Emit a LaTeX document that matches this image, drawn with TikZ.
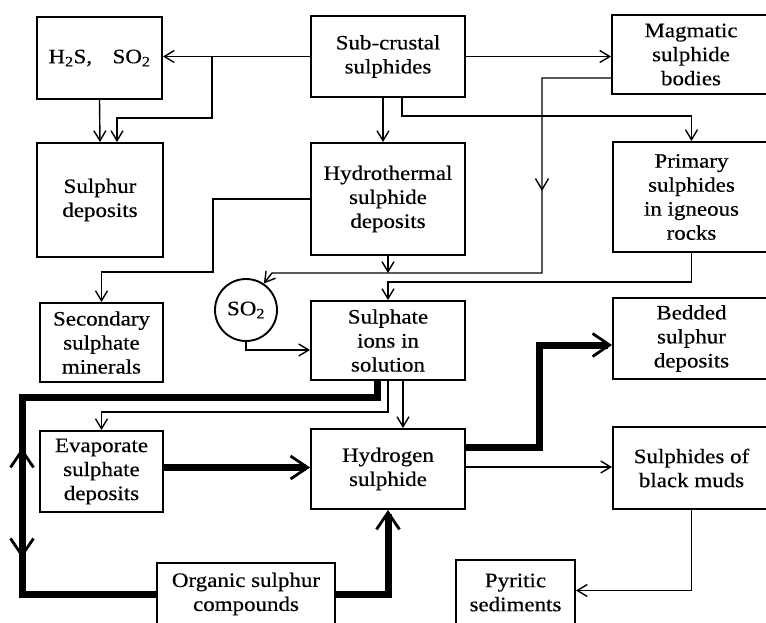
\documentclass[tikz,border=0pt]{standalone}
\usepackage{fontspec}
\setmainfont{Liberation Serif}[FakeStretch=1.12,FakeBold=0.4]
\usetikzlibrary{arrows.meta,calc,decorations.markings}

\tikzset{
  box/.style={draw,line width=1.9pt,inner sep=0pt,align=center,font=\fontsize{20.5}{24}\selectfont},
  arr/.style={line width=1.4pt,-{Straight Barb[length=10pt,width=12pt]}},
  heavy/.style={line width=7pt},
  heavyarr/.style={heavy,-{Straight Barb[length=17pt,width=23pt,line width=2.8pt]}},
}

\begin{document}
\begin{tikzpicture}[x=1pt,y=1pt,yscale=-1,xscale=1]
\useasboundingbox (0,0) rectangle (766,622);
\clip (0,0) rectangle (766,622);

% Boxes, top row
\node[box,minimum width=125,minimum height=82] (h2s) at (99.5,58) {H\textsubscript{2}S,\quad SO\textsubscript{2}};
\node[box,minimum width=154,minimum height=81] (subc) at (388,56.5) {Sub-crustal\\sulphides};
\node[box,minimum width=158,minimum height=79] (magm) at (691,54.5) {Magmatic\\sulphide\\bodies};
% Boxes, second row
\node[box,minimum width=126,minimum height=114] (sulph) at (100,200) {Sulphur\\deposits};
\node[box,minimum width=154,minimum height=112] (hydro) at (388,199) {Hydrothermal\\sulphide\\deposits};
\node[box,minimum width=157,minimum height=110] (prim) at (691.5,197) {Primary\\sulphides\\in igneous\\rocks};
% Boxes, third row
\node[box,minimum width=123,minimum height=79] (sec) at (101.5,342.5) {Secondary\\sulphate\\minerals};
\node[box,circle,minimum size=62] (so2c) at (246,310) {SO\textsubscript{2}};
\node[box,minimum width=154,minimum height=79] (sulion) at (388,340.5) {Sulphate\\ions in\\solution};
\node[box,minimum width=157,minimum height=81] (bedded) at (691.5,338.5) {Bedded\\sulphur\\deposits};
% Boxes, fourth row
\node[box,minimum width=123,minimum height=81] (evap) at (101.5,471.5) {Evaporate\\sulphate\\deposits};
\node[box,minimum width=154,minimum height=80] (hydrog) at (388,469) {Hydrogen\\sulphide};
\node[box,minimum width=157,minimum height=82] (black) at (691.5,468) {Sulphides of\\black muds};
% Boxes, bottom row
\node[box,minimum width=178,minimum height=62] (organic) at (246,594) {Organic sulphur\\compounds};
\node[box,minimum width=119,minimum height=65] (pyritic) at (515.5,592.5) {Pyritic\\sediments};

% Bend points
\coordinate (b1) at (212,56.5);
\coordinate (m1) at (542,273);
\coordinate (m2) at (272,273);
\coordinate (p1) at (691.5,282);
\coordinate (h1) at (213,272);

% Thin connectors
\draw[arr] (subc.west) -- (subc.west -| h2s.east);
\draw[arr] (h2s.south) -- (sulph.north);
\draw[arr] (b1) |- ($(sulph.north)+(17,-24)$) -- ($(sulph.north)+(17,0)$);
\draw[arr] (subc.east) -- (subc.east -| magm.west);
\draw[arr] ($(subc.south)+(-5,0)$) -- ($(hydro.north)+(-5,0)$);
\draw[arr] ($(subc.south)+(14,0)$) |- ($(prim.north)+(0,-25)$) -- (prim.north);
\draw[arr,postaction={decorate,decoration={markings,mark=at position 182pt with {\arrow{Straight Barb[length=11pt,width=13pt]}}}}] ($(magm.west)+(0,23.5)$) -| (m1) -- (m2) -- (so2c.56);
\draw[arr] (hydro.south) -- (hydro.south |- m1);
\draw[arr] (prim.south) -- (p1) -| (sulion.north);
\draw[arr] (hydro.west) -| (h1) -| (sec.north);
\draw[arr] (so2c.south) |- ($(sulion.west)+(0,9.5)$);
\draw[arr] (sulion.south) |- ($(evap.north)+(0,-18)$) -- (evap.north);
\draw[arr] ($(sulion.south)+(15,0)$) -- ($(hydrog.north)+(15,0)$);
\draw[arr] ($(hydrog.east)+(0,-2)$) -- ($(black.west)+(0,-1)$);
\draw[arr] (black.south) |- ($(pyritic.east)+(0,-2)$);

% Heavy connectors
\draw[heavy,postaction={decorate,decoration={markings,
    mark=at position 422pt with {\arrowreversed[line width=2.8pt]{Straight Barb[length=17pt,width=23pt]}},
    mark=at position 532pt with {\arrow[line width=2.8pt]{Straight Barb[length=17pt,width=23pt]}}}}]
  ($(sulion.south)+(-11,0)$) |- (22,397) |- (organic.west);
\draw[heavyarr] ($(evap.east)+(0,-4)$) -- ($(evap.east -| hydrog.west)+(0,-4)$);
\draw[heavyarr] (organic.east) -| (hydrog.south);
\draw[heavyarr] ($(hydrog.east)+(0,-22)$) -| ($(bedded.west)+(-73,6.5)$) -- ($(bedded.west)+(0,6.5)$);

\end{tikzpicture}
\end{document}
